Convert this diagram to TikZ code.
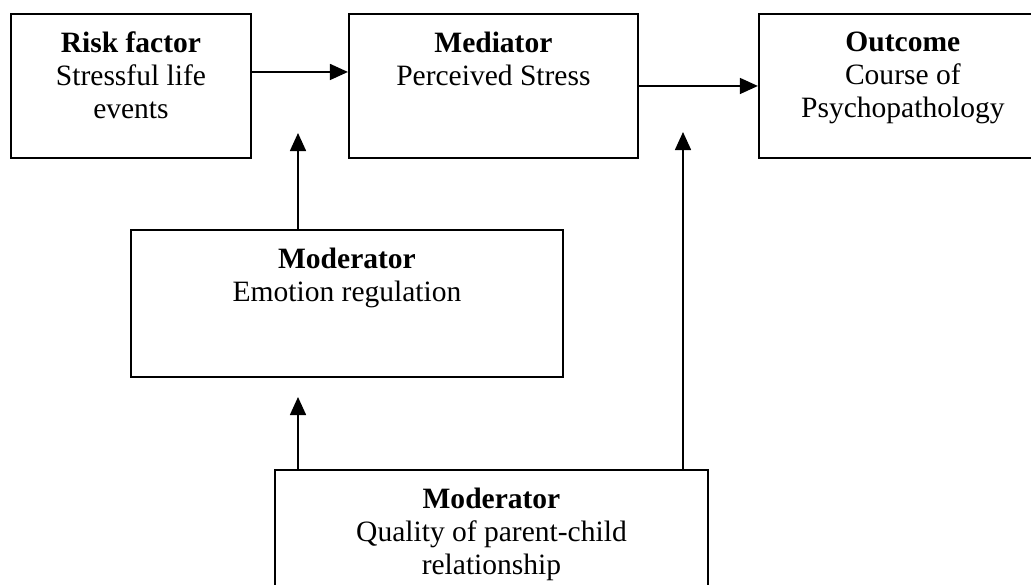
\documentclass[tikz,border=0pt]{standalone}
\usepackage{fontspec}
\setmainfont{Liberation Serif}
\usetikzlibrary{arrows.meta,positioning,calc}

\begin{document}
\begin{tikzpicture}[
    box/.style={draw=black, line width=1.1pt, rectangle, inner sep=0pt, minimum height=2.88cm},
    boxtext/.style={inner sep=0pt, align=center, font=\fontsize{16.8pt}{18.8pt}\selectfont, anchor=north},
    line/.style={draw=black, line width=0.9pt, -{Triangle[length=0.36cm, width=0.32cm]}}
  ]
    \useasboundingbox (0,0) rectangle (20.62,-11.68);

    % Boxes
    \node[box, minimum width=4.8cm, anchor=north west] (risk) at (0.2,-0.26) {};
    \node[box, minimum width=5.78cm, right=1.92cm of risk] (med) {};
    \node[box, minimum width=5.76cm, right=2.38cm of med] (out) {};
    \node[box, minimum width=8.64cm, minimum height=2.94cm, anchor=north west] (emo) at (2.6,-4.58) {};
    \node[box, minimum width=8.66cm, minimum height=2.62cm, anchor=north west] (qual) at (5.48,-9.38) {};

    % Texts
    \node[boxtext, below=0.37cm of risk.north] (risktxt) {\textbf{Risk factor}\\Stressful life\\events};
    \node[boxtext, below=0.37cm of med.north] (medtxt) {\textbf{Mediator}\\Perceived Stress};
    \node[boxtext, below=0.37cm of out.north] (outtxt) {\textbf{Outcome}\\Course of\\Psychopathology};
    \node[boxtext, below=0.37cm of emo.north] (emotxt) {\textbf{Moderator}\\Emotion regulation};
    \node[boxtext, below=0.37cm of qual.north] (qualtxt) {\textbf{Moderator}\\Quality of parent-child\\relationship};

    % Arrow tips
    \coordinate (emotip) at (5.96,-2.66);
    \coordinate (qualtipA) at (5.96,-7.94);
    \coordinate (qualtipB) at (13.66,-2.64);

    % Edges
    \draw[line] ([yshift=0.28cm]risk.east) -- ([yshift=0.28cm]med.west);
    \draw[line] (med) -- (out);
    \draw[line] (emotip |- emo.north) -- (emotip);
    \draw[line] (qualtipA |- qual.north) -- (qualtipA);
    \draw[line] (qualtipB |- qual.north) -- (qualtipB);
  \end{tikzpicture}
\end{document}
